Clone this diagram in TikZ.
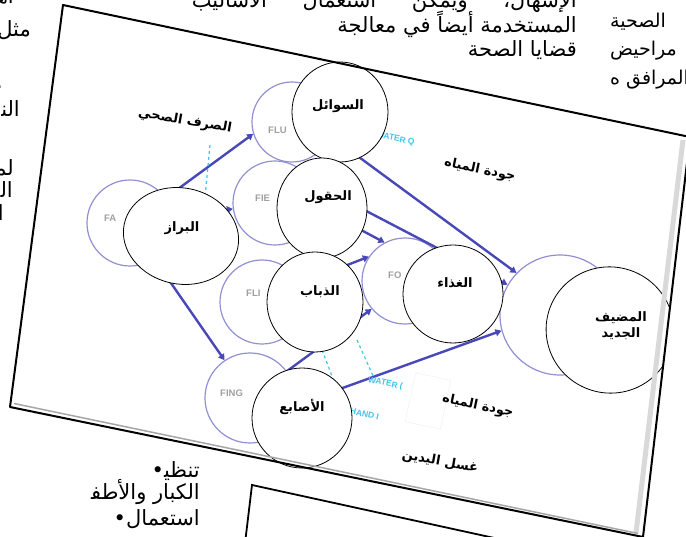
\documentclass[tikz,border=0pt]{standalone}
\usepackage{fontspec}
\usetikzlibrary{arrows.meta,shapes.geometric,calc}
\TeXXeTstate=1
\newfontfamily\arabicfont[Script=Arabic]{DejaVu Sans}
\newfontfamily\latinsans{Liberation Sans}
\definecolor{ghostblue}{RGB}{145,145,210}
\definecolor{flowblue}{RGB}{72,72,185}
\definecolor{barcyan}{RGB}{70,195,235}
\definecolor{ghosttext}{RGB}{160,160,160}

\begin{document}
\begin{tikzpicture}[x=1pt, y=-1pt,
  ghost/.style={draw=ghostblue, line width=1.2pt, circle, inner sep=0pt},
  ghostlab/.style={anchor=west, text=ghosttext, inner sep=0pt,
    font=\latinsans\bfseries\fontsize{9.5}{11}\selectfont},
  oval/.style={draw, fill=white, line width=0.8pt, ellipse, inner sep=0pt},
  arlab/.style={font=\arabicfont\bfseries\fontsize{13}{16}\selectfont,
    inner sep=1pt, align=center},
  flow/.style={draw=flowblue, line width=2.4pt,
    -{Triangle[length=6pt,width=7pt]}},
  barrier/.style={draw=barcyan, dashed, line width=1.2pt},
  cyanlab/.style={text=barcyan, anchor=west, inner sep=0pt,
    font=\latinsans\bfseries\fontsize{8.5}{10}\selectfont},
  page/.style={font=\arabicfont\fontsize{21}{24}\selectfont, inner sep=0pt},
  pagenarrow/.style={page, font=\arabicfont\fontsize{19}{22}\selectfont}
]
\useasboundingbox (0,0) rectangle (686,537);
\fill[white] (0,0) rectangle (686,537);

% Page text around the picture
\node[page, anchor=base east] (topa) at (577,8)
  {\hbox to 385pt{\beginR الإسهال،\hfill ويمكن\hfill استعمال\hfill الأساليب\endR}};
\node[page, anchor=base east] (topb) at (577,33) {\beginR المستخدمة أيضاً في معالجة\endR};
\node[page, anchor=base east] (topc) at (577,57) {\beginR قضايا الصحة\endR};

\node[pagenarrow, anchor=base west] (rgta) at (610,28) {\beginR الصحية\endR};
\node[pagenarrow, anchor=base west] (rgtb) at (610,56) {\beginR مراحيض\endR};
\node[pagenarrow, anchor=base west] (rgtc) at (610,85) {\beginR المرافق ه\endR};

\node[page, anchor=base east] (lfta) at (14,4) {\beginR اه^^^^200d\endR};
\node[page, anchor=base east] (lftb) at (31,37) {\beginR مثل\endR};
\node[page, anchor=base east] (lftc) at (3,89) {.};
\node[page, anchor=base east] (lftd) at (20,117) {\beginR الن^^^^200d\endR};
\node[page, anchor=base east] (lfte) at (14,176) {\beginR لم^^^^200d\endR};
\node[page, anchor=base east] (lftf) at (13,198) {\beginR ال^^^^200d\endR};
\node[page, anchor=base east] (lftg) at (4,221) {\beginR ا\endR};

\node[page, anchor=base east] (btma) at (200,477) {\beginR تنظي^^^^200d•\endR};
\node[page, anchor=base east] (btmb) at (200,500) {\beginR الكبار والأطف^^^^200d\endR};
\node[page, anchor=base east] (btmc) at (200,525) {\beginR استعمال•\endR};

% Lower card
\draw[line width=1.8pt] (243,560) -- (252,485) -- (700,583);

% Main card
\coordinate (tl) at (63,5);
\coordinate (tr) at (690,137);
\coordinate (br) at (643,537);
\coordinate (bl) at (10,407);
\fill[white] (tl) -- (tr) -- (br) -- (bl) -- cycle;

% Ghost circles of the original chart
\node[ghost, minimum size=86pt] (fa) at (130,223) {};
\node[ghost, minimum size=80pt] (flu) at (292,122) {};
\node[ghost, minimum size=84pt] (fie) at (275,203) {};
\node[ghost, minimum size=84pt] (fli) at (262,302) {};
\node[ghost, minimum size=86pt] (fo) at (405,281) {};
\node[ghost, minimum size=90pt] (fing) at (250,398) {};
\node[ghost, minimum size=120pt] (newhost) at (560,315) {};

\node[ghostlab] (fat) at (104,218) {FA};
\node[ghostlab] (flut) at (268,130) {FLU};
\node[ghostlab] (fiet) at (255,198) {FIE};
\node[ghostlab] (flit) at (246,293) {FLI};
\node[ghostlab] (fot) at (388,275) {FO};
\node[ghostlab] (fingt) at (220,393) {FING};

% Transmission routes
\draw[flow] (fa.35) -- (flu.197);
\draw[flow] (fa.8) -- (fie.188);
\draw[flow] (fa.-56) -- (fing.124);
\draw[flow] (flu.-20) -- (newhost.136);
\draw[flow] (fie.-5) -- (fo.118);
\draw[flow] (fie.28) -- (newhost.150);
\draw[flow] (fli.26) -- (fo.146);
\draw[flow] (fing.36) -- (fo.220);
\draw[flow] (fing.-9) -- (newhost.195);

% Barriers
\coordinate (sana) at (210,145);
\coordinate (sanb) at (205,197);
\coordinate (hnda) at (322,350);
\coordinate (hndb) at (345,410);
\coordinate (wtra) at (357,340);
\coordinate (wtrb) at (374,378);
\draw[barrier] (sana) -- (sanb);
\draw[barrier] (hnda) -- (hndb);
\draw[barrier] (wtra) -- (wtrb);

\node[cyanlab, rotate=-12] (waterq) at (376,135) {WATER Q};
\node[cyanlab, rotate=-12] (wateri) at (368,380) {WATER (};
\node[cyanlab, rotate=-12] (handi) at (350,411) {HAND I};
\node[fill=white, draw=gray!12, minimum width=36pt, minimum height=50pt,
  rotate=-12, inner sep=0pt] (cover) at (428,401) {};

% Arabic overlay
\node[oval, minimum width=96pt, minimum height=100pt] (sawail) at (340,112) {};
\node[oval, minimum width=116pt, minimum height=96pt, rotate=-12] (baraz) at (181,236) {};
\node[oval, minimum width=90pt, minimum height=100pt] (huqul) at (322,208) {};
\node[oval, minimum width=96pt, minimum height=100pt] (thubab) at (315,302) {};
\node[oval, minimum width=100pt, minimum height=98pt] (ghitha) at (453,294) {};
\node[oval, minimum width=100pt, minimum height=100pt] (asabi) at (302,418) {};
\begin{scope}
  \clip (tl) -- (tr) -- (br) -- (bl) -- cycle;
  \node[oval, minimum width=128pt, minimum height=126pt, rotate=-20] (mudif) at (610,330) {};
\end{scope}

\node[arlab] (sawailt) at (338,106) {\beginR السوائل\endR};
\node[arlab] (barazt) at (182,228) {\beginR البراز\endR};
\node[arlab] (huqult) at (328,197) {\beginR الحقول\endR};
\node[arlab] (thubabt) at (320,292) {\beginR الذباب\endR};
\node[arlab] (ghithat) at (455,283) {\beginR الغذاء\endR};
\node[arlab] (asabit) at (302,407) {\beginR الأصابع\endR};
\node[arlab] (mudift) at (621,326) {\beginR المضيف\endR\\\beginR الجديد\endR};

\node[arlab, rotate=-10] (sarf) at (185,121) {\beginR الصرف الصحي\endR};
\node[arlab, rotate=-12] (jawdaa) at (480,170) {\beginR جودة المياه\endR};
\node[arlab, rotate=-12] (jawdab) at (478,406) {\beginR جودة المياه\endR};
\node[arlab, rotate=-10] (ghasl) at (440,462) {\beginR غسل اليدين\endR};

% Card edge and shading
\draw[gray!30, line width=5pt] ($(tr)+(-7,3)$) -- ($(br)+(-7,-4)$);
\draw[gray!70, line width=1.5pt] ($(bl)+(4,-3.5)$) -- ($(br)+(-5,-3.5)$);
\draw[line width=2pt, line join=round] (tl) -- (tr) -- (br) -- (bl) -- cycle;
\end{tikzpicture}
\end{document}
